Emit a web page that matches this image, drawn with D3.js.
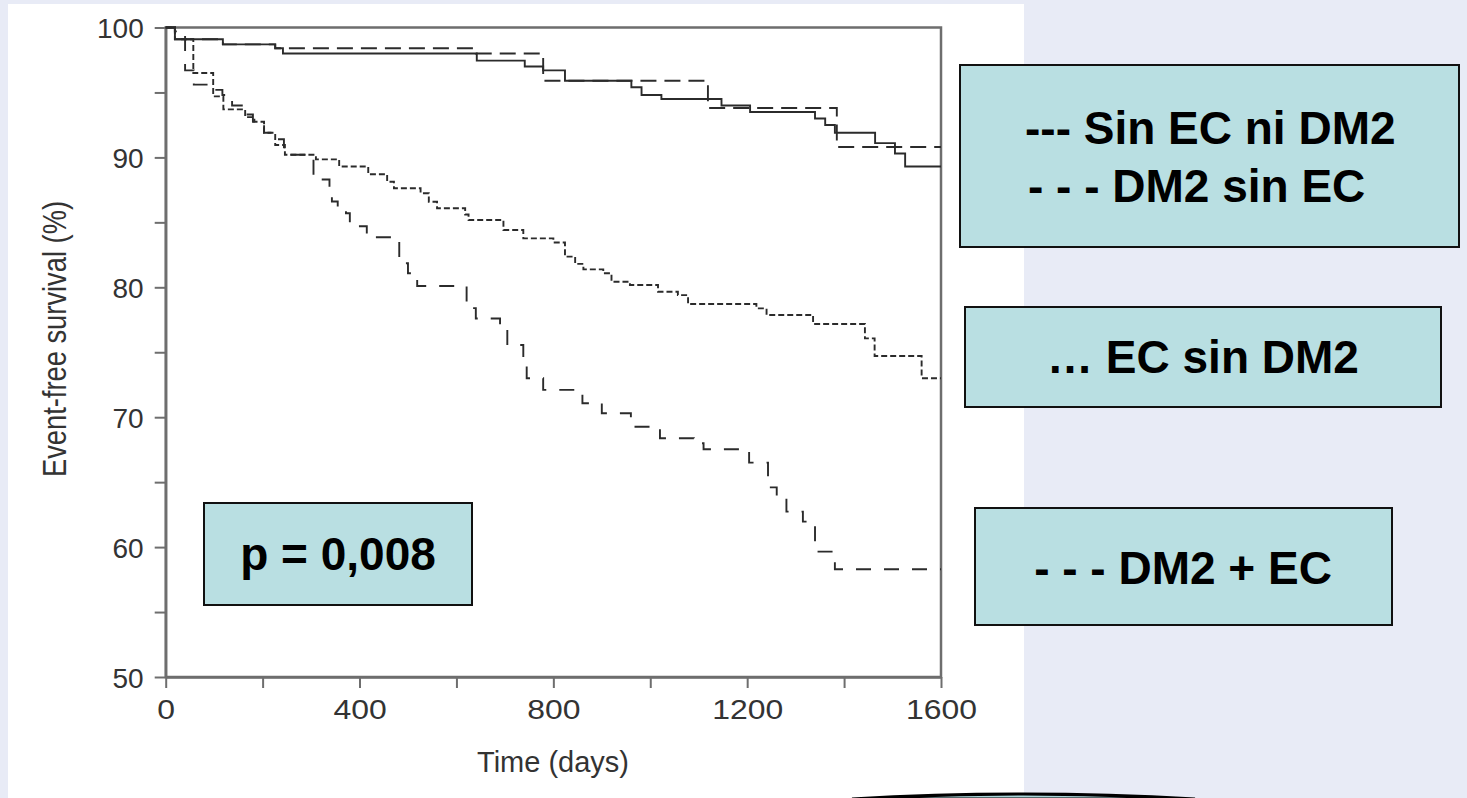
<!DOCTYPE html>
<html>
<head>
<meta charset="utf-8">
<script src="https://cdn.jsdelivr.net/npm/d3@7"></script>
<style>
  html, body { margin: 0; padding: 0; background: #e8ebf6; }
  svg { display: block; }
  text { font-family: "Liberation Sans", Arial, sans-serif; }
</style>
</head>
<body>
<svg id="chart" width="1467" height="798"></svg>
<script>
// Kaplan-Meier step data: [day, survival %] (value after the step)
const sinEcNiDm2 = [[0,100],[19,99.1],[118,98.7],[226,98.4],[242,98.0],[642,97.45],[741,97.0],[779,96.7],[824,95.9],[961,95.4],[982,94.8],[1023,94.5],[1147,94.0],[1206,93.5],[1340,93.0],[1361,92.5],[1381,91.9],[1464,91.1],[1505,90.3],[1526,89.3]];
const dm2SinEc = [[0,100],[19,99.1],[118,98.7],[226,98.4],[640,98.0],[779,95.9],[1119,93.8],[1385,90.8]];
const ecSinDm2 = [[0,100],[19,99.1],[57,96.5],[98,94.7],[119,93.7],[164,93.1],[183,92.75],[203,91.9],[226,90.95],[246,90.2],[310,89.85],[358,89.3],[418,88.7],[457,88.13],[471,87.62],[526,87.24],[543,86.59],[560,86.08],[618,85.6],[625,85.18],[697,84.41],[738,83.77],[800,83.45],[824,82.36],[845,81.8],[862,81.38],[903,81.08],[920,80.43],[958,80.18],[1016,79.66],[1057,79.4],[1078,78.71],[1219,78.38],[1240,77.87],[1336,77.17],[1443,76.07],[1463,74.71],[1560,73.0]];
const dm2MasEc = [[0,100],[19,99.7],[40,96.7],[58,95.6],[95,95.2],[117,94.8],[128,94.6],[137,94.0],[162,93.3],[180,92.75],[203,91.9],[222,91.4],[244,90.2],[305,88.3],[338,87.6],[343,86.6],[355,86.1],[372,85.7],[380,84.7],[415,83.85],[482,81.85],[500,81.08],[519,80.1],[621,78.4],[640,77.6],[690,77.0],[705,75.56],[738,74.1],[745,73.0],[779,72.1],[860,71.07],[900,70.3],[960,69.27],[1020,68.38],[1090,68.0],[1110,67.53],[1204,66.5],[1243,64.6],[1261,63.76],[1281,62.73],[1315,61.96],[1340,59.65],[1381,58.3]];

const xTicks = [0,200,400,600,800,1000,1200,1400,1600];
const xLabels = [0,400,800,1200,1600];
const yTicks = [50,55,60,65,70,75,80,85,90,95,100];
const yLabels = [50,60,70,80,90,100];

const series = [
  {data: sinEcNiDm2, dash: null},
  {data: dm2SinEc, dash: "16,8"},
  {data: ecSinDm2, dash: "6,3"},
  {data: dm2MasEc, dash: "15,13"}
];

const svg = d3.select("#chart");

// white slide panel
svg.append("rect").attr("x",8).attr("y",4).attr("width",1016).attr("height",794).attr("fill","#ffffff");

const x = d3.scaleLinear().domain([0,1600]).range([165.7,941]);
const y = d3.scaleLinear().domain([50,100]).range([677,27.5]);

// frame
svg.append("rect").attr("x",x(0)).attr("y",y(100)).attr("width",x(1600)-x(0)).attr("height",y(50)-y(100))
  .attr("fill","none").attr("stroke","#6e6e6e").attr("stroke-width",2.5);

const yAxis = svg.append("g").attr("transform","translate("+x(0)+",0)")
  .call(d3.axisLeft(y).tickValues(yTicks).tickSize(11).tickSizeOuter(0)
    .tickFormat(d => yLabels.includes(d) ? d : ""));
const xAxis = svg.append("g").attr("transform","translate(0,"+y(50)+")")
  .call(d3.axisBottom(x).tickValues(xTicks).tickSize(11).tickSizeOuter(0)
    .tickFormat(d => xLabels.includes(d) ? d : ""));

[yAxis, xAxis].forEach(g => {
  g.select(".domain").attr("stroke","#6e6e6e").attr("stroke-width",2.5);
  g.selectAll(".tick line").attr("stroke","#6e6e6e").attr("stroke-width",2);
  g.selectAll(".tick text").attr("fill","#333").attr("font-size",28)
    .style("font-family","'Liberation Sans', Arial, sans-serif");
});
yAxis.selectAll(".tick text").attr("x",-22).attr("dy","0.36em");
// the x labels are a little wider in the original
xAxis.selectAll(".tick text").attr("y",22).attr("dy","0.71em").attr("transform","scale(1.14,1)");

svg.append("text").attr("x",553).attr("y",772).attr("text-anchor","middle")
  .attr("font-size",29).attr("fill","#333").text("Time (days)");

svg.append("text").attr("transform","translate(66,339) rotate(-90)").attr("text-anchor","middle")
  .attr("font-size",34).attr("fill","#333")
  .attr("textLength",276).attr("lengthAdjust","spacingAndGlyphs")
  .text("Event-free survival (%)");

// survival curves
const line = d3.line().x(d => x(d[0])).y(d => y(d[1])).curve(d3.curveStepAfter);
series.forEach(s => {
  const pts = s.data.concat([[1600, s.data[s.data.length-1][1]]]);
  svg.append("path").attr("d", line(pts)).attr("fill","none")
    .attr("stroke","#2b2b2b").attr("stroke-width",1.9)
    .attr("stroke-dasharray", s.dash);
});

// annotation boxes
function box(x0,y0,w,h){
  svg.append("rect").attr("x",x0).attr("y",y0).attr("width",w).attr("height",h)
    .attr("fill","#b9dfe2").attr("stroke","#111").attr("stroke-width",2);
}
function label(tx,ty,anchor,str){
  svg.append("text").attr("x",tx).attr("y",ty).attr("text-anchor",anchor)
    .attr("font-size",46).attr("font-weight","bold").attr("fill","#000").text(str);
}
box(204,503,268,102);
label(338,570,"middle","p = 0,008");

box(960,65,499,182);
label(1025,144,"start","--- Sin EC ni DM2");
label(1028,202,"start","- - - DM2 sin EC");

box(965,307,476,100);
label(1203,373,"middle","\u2026 EC sin DM2");

box(975,508,417,117);
label(1183,584,"middle","- - - DM2 + EC");

// curved shape at the bottom edge
svg.append("path").attr("d","M852,799 Q1023,789 1195,799 Z")
  .attr("fill","#a9d6da").attr("stroke","#000").attr("stroke-width",3);
</script>
</body>
</html>
